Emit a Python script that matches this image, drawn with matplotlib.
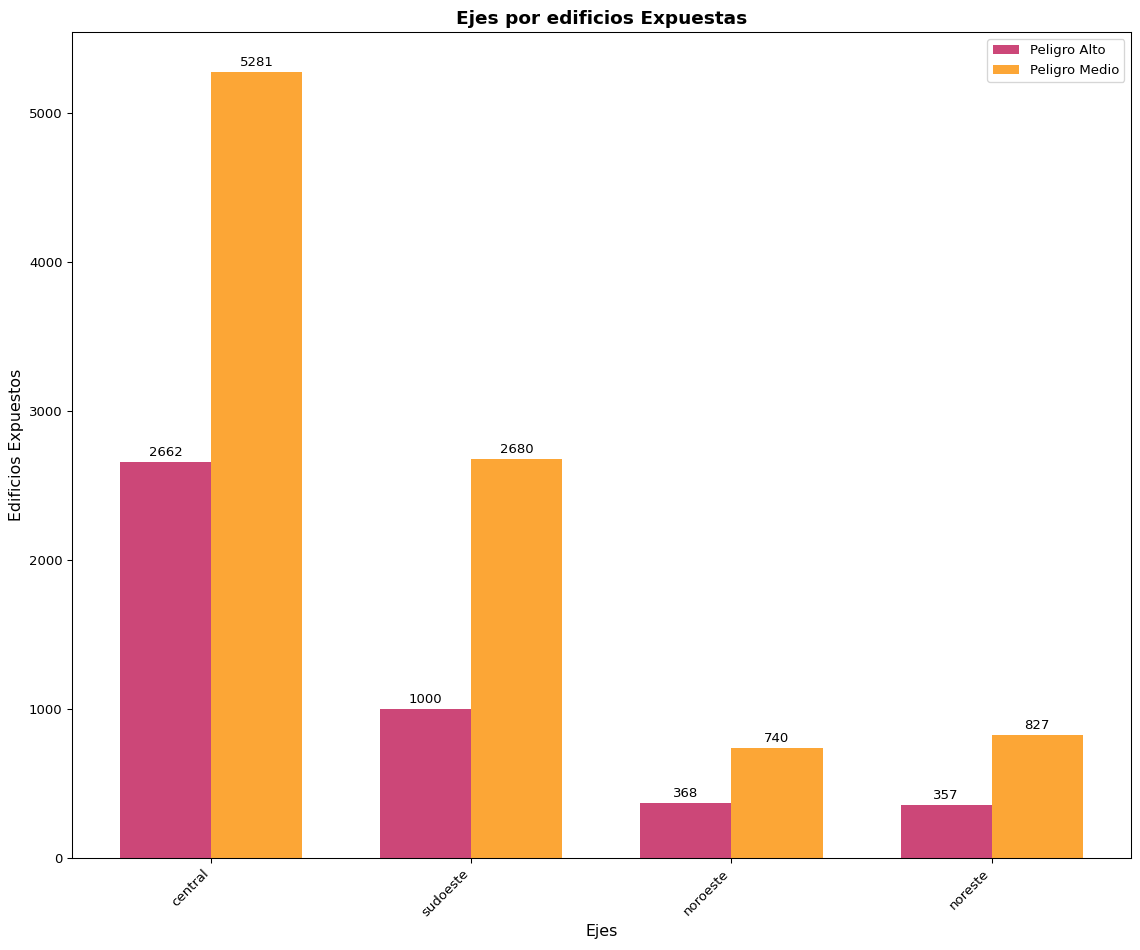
import numpy as np
import matplotlib
matplotlib.use("Agg")
import matplotlib.pyplot as plt

ejes = ["central", "sudoeste", "noroeste", "noreste"]
alto = [2662, 1000, 368, 357]
medio = [5281, 2680, 740, 827]

x = np.arange(len(ejes))
w = 0.35

fig, ax = plt.subplots(figsize=(12, 10), dpi=95)
b1 = ax.bar(x - w/2, alto, w, label="Peligro Alto", color="#cc4778")
b2 = ax.bar(x + w/2, medio, w, label="Peligro Medio", color="#fca636")
ax.bar_label(b1, padding=2)
ax.bar_label(b2, padding=2)

ax.set_xticks(x)
ax.set_xticklabels(ejes, rotation=45, ha="right")
ax.set_xlabel("Ejes", fontsize=12)
ax.set_ylabel("Edificios Expuestos", fontsize=12)
ax.set_title("Ejes por edificios Expuestas", fontsize=14, fontweight="bold")
ax.legend()
fig.subplots_adjust(left=0.063, right=0.992, top=0.966, bottom=0.097)
plt.savefig("out.png", dpi=95)
